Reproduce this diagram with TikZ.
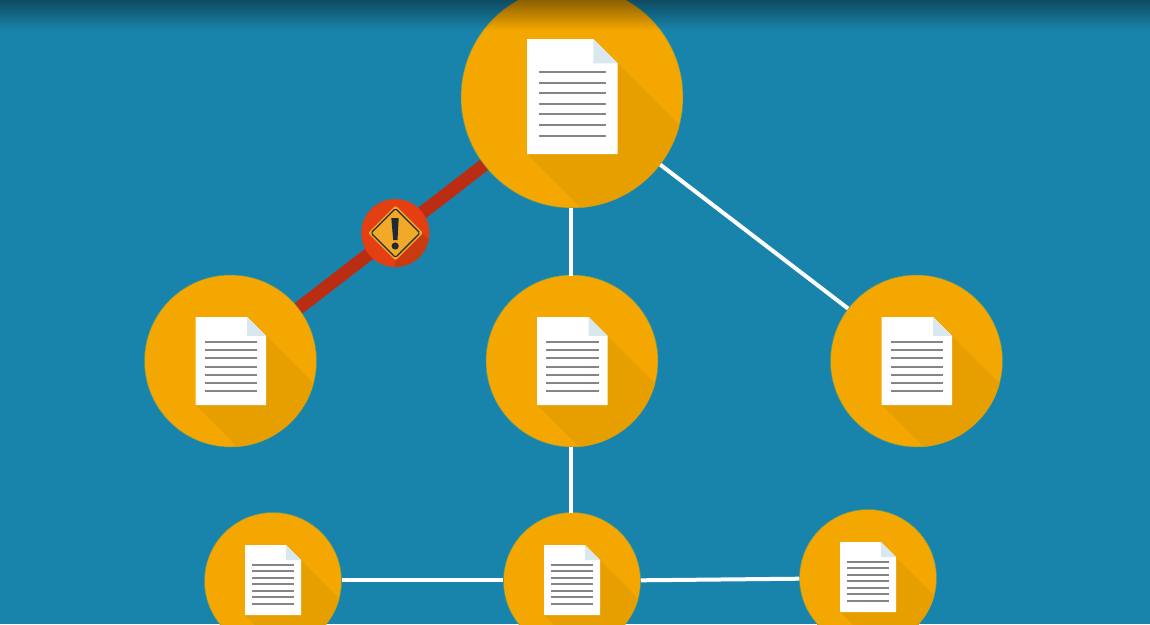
\documentclass[tikz,border=0pt]{standalone}
\usetikzlibrary{fadings}
\definecolor{bgblue}{HTML}{1984AB}
\definecolor{disc}{HTML}{F4A700}
\definecolor{discrim}{HTML}{5E9A70}
\definecolor{discshade}{HTML}{E79F00}
\definecolor{foldblue}{HTML}{D9E7EE}
\definecolor{textline}{HTML}{858585}
\definecolor{alarmline}{HTML}{BA2D12}
\definecolor{alarmdisc}{HTML}{E43F12}
\definecolor{alarmshade}{HTML}{C93A10}
\definecolor{signfill}{HTML}{F3A928}
\definecolor{signink}{HTML}{1E2A38}
\tikzfading[name=topband, top color=transparent!56, bottom color=transparent!100]
\tikzset{
  docdisc/.style={circle, inner sep=0pt, fill=disc, draw=discrim, line width=0.5pt},
  link/.style={draw=white, line width=4pt},
  alarmlink/.style={draw=alarmline, line width=13pt},
  alarmnode/.style={circle, inner sep=0pt, minimum size=68pt, fill=alarmdisc},
}
% name, cx, cy, radius, doc left, doc top, doc width, doc height, line width
\newcommand{\docdiscnode}[9]{%
  \node[docdisc, minimum size=#4*2pt] (#1) at (#2,#3) {};
  \pgfmathsetmacro{\dR}{#5+#7}
  \pgfmathsetmacro{\dB}{#6+#8}
  \pgfmathsetmacro{\fold}{0.268*#7}
  \pgfmathsetmacro{\fx}{\dR-\fold}
  \pgfmathsetmacro{\fy}{#6+\fold}
  \begin{scope}
    \clip (#2,#3) circle (#4pt);
    \fill[discshade] (\dR,\fy) -- ++(300,300) -- (#5+300,\dB+300) -- (#5,\dB) -- cycle;
  \end{scope}
  \fill[white] (#5,#6) -- (\fx,#6) -- (\dR,\fy) -- (\dR,\dB) -- (#5,\dB) -- cycle;
  \fill[foldblue] (\fx,#6) -- (\dR,\fy) -- (\fx,\fy) -- cycle;
  \foreach \k in {0,...,6} {
    \pgfmathsetmacro{\ly}{round(#6+#8*(0.286+0.0925*\k))}
    \draw[textline, line width=#9pt] (#5+0.13*#7,\ly) -- (#5+0.875*#7,\ly);
  }
}
\begin{document}
\begin{tikzpicture}[x=1pt,y=-1pt]
\useasboundingbox (0,0) rectangle (1150,624);
\clip (0,0) rectangle (1150,624);
\fill[bgblue] (0,0) rectangle (1150,624);

\docdiscnode{top}{572}{97}{111}{527}{39}{90.5}{115}{2}
\docdiscnode{left}{230.5}{361}{86}{195.5}{317}{70.5}{88}{2}
\docdiscnode{mid}{572}{361}{86}{537}{317}{70.5}{88}{2}
\docdiscnode{right}{916.5}{361}{86}{881.5}{317}{70.5}{88}{2}
\docdiscnode{lowleft}{273}{581}{68.5}{245}{545}{56}{70}{2}
\docdiscnode{lowmid}{572}{581}{68.5}{544}{545}{56}{70}{2}
\docdiscnode{lowright}{868}{578}{68.5}{840}{542}{56}{70}{2}

\draw[alarmlink] (top) -- (left);
\draw[link] (top) -- (right);
\draw[link] (571.4,208) -- (571.4,276);
\draw[link] (571.4,447) -- (571.4,513);
\draw[link] (lowleft.east |- 0,580) -- (lowmid.west |- 0,580);
\draw[link] (lowmid) -- (lowright);

\node[alarmnode] (alarm) at (395.3,233) {};
\begin{scope}
  \clip (395.3,233) circle (34pt);
  \fill[alarmshade] (422,233) -- ++(100,100) -- (395,360) -- (395,260) -- cycle;
\end{scope}
\fill[signfill, rounded corners=2pt] (395.5,205.5) -- (423,233) -- (395.5,260.5) -- (368,233) -- cycle;
\draw[signink, line width=1.1pt, line join=round, rounded corners=1.5pt] (395.5,208.5) -- (420,233) -- (395.5,257.5) -- (371,233) -- cycle;
\fill[signink] (391.3,218) -- (398.7,218) -- (397.5,240) -- (393.2,240) -- cycle;
\fill[signink] (395.2,246) circle (3.6pt);

\fill[black, path fading=topband] (-20,-1) rectangle (1170,30);
\end{tikzpicture}
\end{document}
